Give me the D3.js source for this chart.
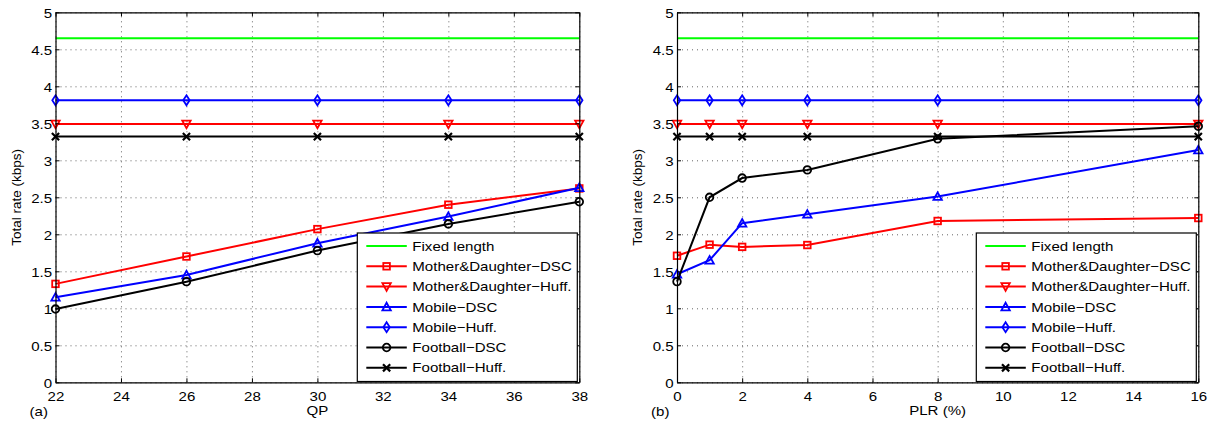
<!DOCTYPE html>
<html>
<head>
<meta charset="utf-8">
<script src="https://cdn.jsdelivr.net/npm/d3@7"></script>
<style>
  body { margin: 0; background: #fff; }
  svg { display: block; font-family: "Liberation Sans", Arial, sans-serif; }
</style>
</head>
<body>
<svg id="fig" width="1211" height="421"></svg>
<script>
// x values
const qp = [22, 26, 30, 34, 38];
const plr = [0, 1, 2, 4, 8, 16];

// legend names
const seriesNames = ["Fixed length", "Mother&Daughter\u2212DSC", "Mother&Daughter\u2212Huff.",
    "Mobile\u2212DSC", "Mobile\u2212Huff.", "Football\u2212DSC", "Football\u2212Huff."];

// (a) total rate vs QP
const fixedA   = [4.65, 4.65, 4.65, 4.65, 4.65];
const mdDscA   = [1.33, 1.70, 2.07, 2.40, 2.62];
const mdHuffA  = [3.49, 3.49, 3.49, 3.49, 3.49];
const mobDscA  = [1.15, 1.45, 1.88, 2.24, 2.63];
const mobHuffA = [3.81, 3.81, 3.81, 3.81, 3.81];
const fbDscA   = [0.99, 1.36, 1.78, 2.14, 2.44];
const fbHuffA  = [3.32, 3.32, 3.32, 3.32, 3.32];

// (b) total rate vs PLR
const fixedB   = [4.65, 4.65, 4.65, 4.65, 4.65, 4.65];
const mdDscB   = [1.71, 1.86, 1.83, 1.855, 2.18, 2.22];
const mdHuffB  = [3.49, 3.49, 3.49, 3.49, 3.49, 3.49];
const mobDscB  = [1.46, 1.65, 2.15, 2.27, 2.51, 3.14];
const mobHuffB = [3.81, 3.81, 3.81, 3.81, 3.81, 3.81];
const fbDscB   = [1.36, 2.50, 2.76, 2.87, 3.29, 3.46];
const fbHuffB  = [3.32, 3.32, 3.32, 3.32, 3.32, 3.32];

const yTicks = [0, 0.5, 1, 1.5, 2, 2.5, 3, 3.5, 4, 4.5, 5];
const xTicksA = [22, 24, 26, 28, 30, 32, 34, 36, 38];
const xTicksB = [0, 2, 4, 6, 8, 10, 12, 14, 16];

const colors = ["#00ff00", "#ff0000", "#ff0000", "#0000ff", "#0000ff", "#000000", "#000000"];
const markers = [null, "square", "tridown", "triup", "diamond", "circle", "cross"];

const STRETCH = 1.16;   // the figure text looks widened horizontally
const svg = d3.select("#fig");

//one marker shape centred on (x,y)
function drawMarker(g, type, x, y, color) {
    var m = g.append("g").attr("transform", "translate(" + x + "," + y + ")")
        .attr("fill", "none").attr("stroke", color).attr("stroke-width", 1.8);
    if (type == "square") {
        m.append("rect").attr("x", -3.3).attr("y", -3.3).attr("width", 6.6).attr("height", 6.6);
    } else if (type == "circle") {
        m.append("circle").attr("r", 3.8);
    } else if (type == "triup") {
        m.append("path").attr("d", "M0,-4.2L4.2,3.4L-4.2,3.4Z");
    } else if (type == "tridown") {
        m.append("path").attr("d", "M0,4.2L4.2,-3.4L-4.2,-3.4Z");
    } else if (type == "diamond") {
        m.append("path").attr("d", "M0,-5L3.2,0L0,5L-3.2,0Z");
    } else if (type == "cross") {
        m.attr("stroke-width", 2.2);
        m.append("path").attr("d", "M-3.6,-3.6L3.6,3.6M-3.6,3.6L3.6,-3.6");
    }
}

//horizontal text, widened a little
function wideText(g, x, y, str, anchor, size) {
    return g.append("text")
        .attr("transform", "translate(" + x + "," + y + ") scale(" + STRETCH + ",1)")
        .attr("text-anchor", anchor)
        .attr("dominant-baseline", "central")
        .attr("font-size", size)
        .attr("fill", "#000")
        .text(str);
}

function drawPanel(xr, xDomain, xTicks, xs, series, xLabel, panelTag) {
    var top = 12.3, bottom = 382.3;
    var x = d3.scaleLinear().domain(xDomain).range(xr);
    var y = d3.scaleLinear().domain([0, 5]).range([bottom, top]);
    var w = xr[1] - xr[0], h = bottom - top;
    var g = svg.append("g");

    //dotted grid
    var gx = g.append("g").attr("transform", "translate(0," + bottom + ")")
        .call(d3.axisBottom(x).tickValues(xTicks).tickSize(-h).tickFormat(""));
    var gy = g.append("g").attr("transform", "translate(" + xr[0] + ",0)")
        .call(d3.axisLeft(y).tickValues(yTicks).tickSize(-w).tickFormat(""));
    [gx, gy].forEach(a => {
        a.select(".domain").remove();
        a.selectAll("line").attr("stroke", "#555").attr("stroke-width", 0.9)
            .attr("stroke-dasharray", "1,4");
    });

    //lines and markers
    series.forEach((vals, i) => {
        var pts = xs.map((v, j) => [x(v), y(vals[j])]);
        g.append("path")
            .attr("d", d3.line()(pts))
            .attr("fill", "none")
            .attr("stroke", colors[i])
            .attr("stroke-width", 2);
        if (markers[i]) {
            pts.forEach(p => drawMarker(g, markers[i], p[0], p[1], colors[i]));
        }
    });

    //box axes with inward ticks
    var axB = g.append("g").attr("transform", "translate(0," + bottom + ")")
        .call(d3.axisBottom(x).tickValues(xTicks).tickSize(-4).tickSizeOuter(0).tickPadding(9));
    var axT = g.append("g").attr("transform", "translate(0," + top + ")")
        .call(d3.axisTop(x).tickValues(xTicks).tickSize(-4).tickSizeOuter(0).tickFormat(""));
    var axL = g.append("g").attr("transform", "translate(" + xr[0] + ",0)")
        .call(d3.axisLeft(y).tickValues(yTicks).tickSize(-4).tickSizeOuter(0).tickPadding(3)
            .tickFormat(d3.format("")));
    var axR = g.append("g").attr("transform", "translate(" + xr[1] + ",0)")
        .call(d3.axisRight(y).tickValues(yTicks).tickSize(-4).tickSizeOuter(0).tickFormat(""));
    [axB, axT, axL, axR].forEach(a => {
        a.select(".domain").attr("stroke", "#000").attr("stroke-width", 1.2);
        a.selectAll("line").attr("stroke", "#000");
    });
    axL.selectAll("text")
        .attr("font-size", 13).attr("font-family", null).attr("fill", "#000")
        .attr("dy", "0.42em")
        .attr("transform", "scale(" + STRETCH + ",1)")
        .attr("x", -3.4 / STRETCH);
    axB.selectAll("text")
        .attr("font-size", 13).attr("font-family", null).attr("fill", "#000")
        .attr("dy", "0.74em")
        .attr("transform", "scale(" + STRETCH + ",1)");

    //labels
    wideText(svg, (xr[0] + xr[1]) / 2, 410, xLabel, "middle", 13);
    wideText(svg, xr[0] - 26, 411, panelTag, "start", 13);
    svg.append("text")
        .attr("transform", "translate(" + (xr[0] - 39.5) + "," + (top + bottom) / 2 + ") rotate(-90)")
        .attr("text-anchor", "middle")
        .attr("dominant-baseline", "central")
        .attr("font-size", 13.5)
        .text("Total rate (kbps)");

    //legend
    var lg = svg.append("g").attr("transform", "translate(" + (xr[1] - 222) + ",233)");
    lg.append("rect").attr("width", 220).attr("height", 148.5)
        .attr("fill", "#fff").attr("stroke", "#000").attr("stroke-width", 1.2);
    seriesNames.forEach((name, i) => {
        var ry = 13 + i * 20.3;
        lg.append("line").attr("x1", 9).attr("x2", 49.5).attr("y1", ry).attr("y2", ry)
            .attr("stroke", colors[i]).attr("stroke-width", 2);
        if (markers[i]) drawMarker(lg, markers[i], 29.3, ry, colors[i]);
        wideText(lg, 55, ry, name, "start", 13);
    });
}

drawPanel([55.5, 579.3], [22, 38], xTicksA, qp,
    [fixedA, mdDscA, mdHuffA, mobDscA, mobHuffA, fbDscA, fbHuffA], "QP", "(a)");
drawPanel([677, 1198.3], [0, 16], xTicksB, plr,
    [fixedB, mdDscB, mdHuffB, mobDscB, mobHuffB, fbDscB, fbHuffB], "PLR (%)", "(b)");
</script>
</body>
</html>
